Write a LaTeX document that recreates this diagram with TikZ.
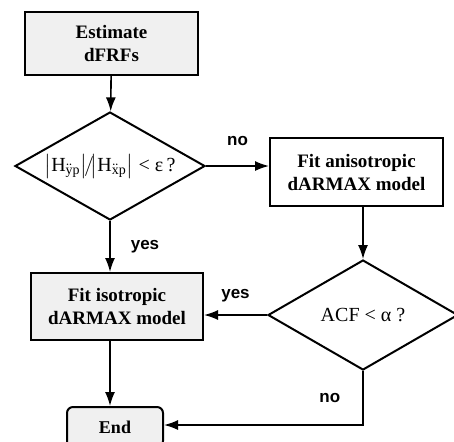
\documentclass[tikz,border=0pt]{standalone}
\usepackage{fontspec}
\setmainfont{Liberation Serif}
\newfontfamily\labelfont{Liberation Sans}
\usetikzlibrary{arrows.meta,shapes.geometric}

\begin{document}
\begin{tikzpicture}[x=0.5pt,y=-0.5pt,>={Latex[length=7pt,width=5pt]},line width=0.8pt,
    box/.style={draw,line width=1pt,align=center,inner sep=0pt,
                font=\fontsize{9.5}{11.5}\selectfont\bfseries},
    shaded/.style={fill=gray!12},
    test/.style={draw,diamond,line width=1pt,inner sep=0pt,aspect=1.76,
                 font=\fontsize{10}{12}\selectfont},
    lbl/.style={inner sep=0pt,font=\labelfont\fontsize{8.5}{10}\selectfont\bfseries}]
    \useasboundingbox (0,0) rectangle (454,441);

    \node[box,shaded,minimum width=86.5pt,minimum height=31.5pt]  (est)  at (111.5,43.5) {Estimate\\dFRFs};
    \node[test,minimum width=95pt,minimum height=54pt]           (chk)  at (110,166)
        {$\bigl|\mathrm{H}_{\ddot{\mathrm{y}}\mathrm{p}}\bigr|\!/\!\bigl|\mathrm{H}_{\ddot{\mathrm{x}}\mathrm{p}}\bigr|$ < ε\,?};
    \node[box,minimum width=86.5pt,minimum height=34pt]          (aniso) at (356.5,172) {Fit anisotropic\\dARMAX model};
    \node[test,minimum width=95pt,minimum height=55pt]           (acf)  at (363,315) {ACF < α ?};
    \node[box,shaded,minimum width=86pt,minimum height=33.5pt]   (iso)  at (117,306.5) {Fit isotropic\\dARMAX model};
    \node[box,shaded,rounded corners=3pt,minimum width=48pt,minimum height=20pt,
          font=\fontsize{9}{11}\selectfont\bfseries]             (end)  at (115,427) {End};

    \path[->]   (est)          edge  (chk)
                (chk.east)     edge  node[lbl,above=10pt] {no} (chk.east -| aniso.west)
                (acf.north |- aniso.south) edge  (acf.north)
                (chk.south)    edge  node[lbl,right=10pt] {yes} (chk.south |- iso.north)
                (acf.west)     edge  node[lbl,above=6pt] {yes} (acf.west -| iso.east)
                (chk.south |- iso.south) edge (chk.south |- end.north)
                ;
    \draw[->] (acf.south) -- node[lbl,left=11pt,pos=0.5] {no} (acf.south |- 0,425) -- (end.east |- 0,425);
\end{tikzpicture}
\end{document}
